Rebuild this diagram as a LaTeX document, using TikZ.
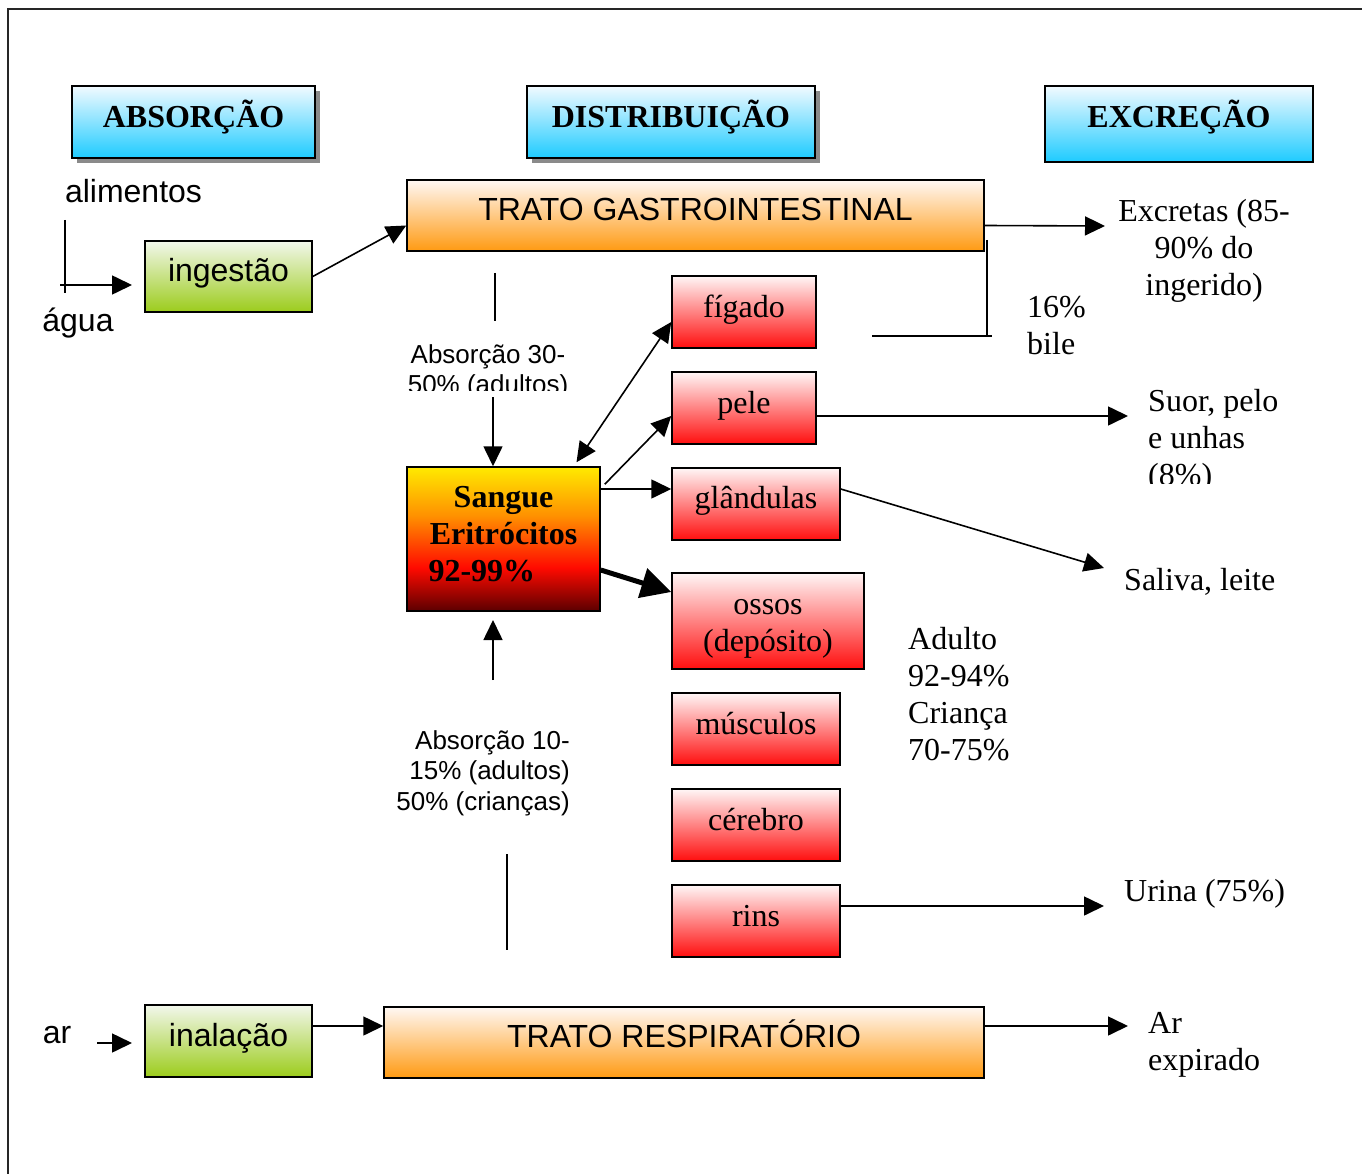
\documentclass[tikz,border=0pt]{standalone}
\usepackage{fontspec}
\setmainfont{Liberation Serif}
\setsansfont{Liberation Sans}
\usetikzlibrary{arrows.meta,shadows,calc}
\definecolor{cyTop}{HTML}{F2FAFF}
\definecolor{cyBot}{HTML}{1ECBFF}
\definecolor{orTop}{HTML}{FFF8F4}
\definecolor{orBot}{HTML}{FF9A12}
\definecolor{grTop}{HTML}{F2F7EC}
\definecolor{grBot}{HTML}{9CCC1C}
\definecolor{rdTop}{HTML}{FFF6F6}
\definecolor{rdBot}{HTML}{FF0E0E}
\definecolor{blYel}{HTML}{FFEA00}
\definecolor{blOra}{HTML}{FF9000}
\definecolor{blRed}{HTML}{FF0A00}
\definecolor{blDark}{HTML}{5C0000}
\definecolor{shadowgray}{HTML}{8A8A8A}
\pgfdeclareverticalshading{bloodshade}{100bp}{color(0bp)=(blDark); color(25bp)=(blDark); color(40bp)=(blRed); color(58bp)=(blOra); color(75bp)=(blYel); color(100bp)=(blYel)}
\newcommand\upby[2]{\raisebox{#1}[\height][\depth]{#2}}
\begin{document}
\begin{tikzpicture}[x=1pt,y=-1pt,
  serifbig/.style={font=\fontsize{32}{37}\selectfont},
  sansbig/.style={font=\sffamily\fontsize{32}{37}\selectfont},
  sanssmall/.style={font=\sffamily\fontsize{26}{30.5}\selectfont},
  box/.style={draw=black, line width=1.5pt, inner sep=0pt, align=center},
  headbox/.style={box, top color=cyTop, bottom color=cyBot, font=\fontsize{32}{37}\selectfont\bfseries},
  headshadow/.style={general shadow={fill=shadowgray, shadow xshift=5pt, shadow yshift=-5pt}},
  organ/.style={box, top color=rdTop, bottom color=rdBot, serifbig, minimum height=72pt},
  tract/.style={box, top color=orTop, bottom color=orBot, sansbig, minimum height=71pt},
  actbox/.style={box, top color=grTop, bottom color=grBot, sansbig, minimum width=167pt, minimum height=71pt},
  lbl/.style={inner sep=0pt, align=center},
  arr/.style={-{Triangle[length=20pt,width=19pt]}, line width=1.6pt},
  ln/.style={line width=1.6pt},
]
\useasboundingbox (0,0) rectangle (1362,1174);
% frame
\draw[line width=1.8pt, black!85] (8,1174) -- (8,9) -- (1362,9);

% headers
\node[headbox, headshadow, minimum width=243pt, minimum height=72pt] (habs) at (193.5,122) {\upby{5pt}{ABSORÇÃO}};
\node[headbox, headshadow, minimum width=288pt, minimum height=72pt] (hdist) at (671,122) {\upby{4.5pt}{DISTRIBUIÇÃO}};
\node[headbox, minimum width=268pt, minimum height=76pt] (hexc) at (1179,124) {\upby{7pt}{EXCREÇÃO}};

% left side intake
\node[lbl, sansbig] (alim) at (133.5,191) {alimentos};
\node[lbl, sansbig] (agua) at (78,323) {água};
\node[actbox] (ing) at (228.5,276.5) {\upby{3pt}{ingestão}};
\coordinate (wtop) at (65,220);
\coordinate (wbot) at (65,293);
\coordinate (wstart) at (60,285);
\coordinate (wend) at (132,285);
\draw[ln] (wtop) -- (wbot);
\draw[arr] (wstart) -- (wend);

% GI tract
\node[tract, minimum width=577pt] (gi) at (695.5,215.5) {\upby{6pt}{TRATO GASTROINTESTINAL}};
\draw[arr] (ing.east) -- ([yshift=-10pt]gi.west);
\coordinate (excr) at (1105,226);
\draw[arr] ([yshift=-10pt]gi.east) -- (excr);
\node[lbl, serifbig] (excrtxt) at (1204,251) {Excretas (85-\\90\% do\\ingerido)};

% bile
\coordinate (bt) at (987,240);
\coordinate (bb) at (987,336);
\coordinate (bl) at (872,336);
\coordinate (br) at (992,336);
\draw[ln] (bt) -- (bb);
\draw[ln] (bl) -- (br);
\node[lbl, serifbig, align=left, anchor=west] (bile) at (1027,326) {16\%\\bile};

% blood
\node[box, shading=bloodshade, minimum width=193pt, minimum height=144pt, font=\fontsize{32}{37}\selectfont\bfseries] (blood) at (503.5,539)
  {\upby{1.5pt}{\begin{tabular}{@{}c@{}}Sangue\\Eritrócitos\\\makebox[146pt][l]{\hspace{-2pt}92-99\%}\end{tabular}}};

% absorption 30-50
\coordinate (a1t) at (495,273);
\coordinate (a1b) at (495,321);
\draw[ln] (a1t) -- (a1b);
\begin{scope}
  \clip (395,330) rectangle (590,390);
  \node[lbl, sanssmall] (abs1) at (488,372) {Absorção 30-\\50\% (adultos)};
\end{scope}
\coordinate (a1s) at (493,397);
\draw[arr] (a1s) -- ([xshift=-10.5pt]blood.north);

% organs
\node[organ, minimum width=144pt] (fig) at (744,312) {\upby{2pt}{fígado}};
\node[organ, minimum width=144pt] (pele) at (744,408) {\upby{2pt}{pele}};
\node[organ, minimum width=168pt] (gland) at (756,504) {\upby{3.5pt}{glândulas}};
\node[organ, minimum width=192pt, minimum height=96pt] (ossos) at (768,621) {\upby{-4.5pt}{\begin{tabular}{@{}c@{}}ossos\\(depósito)\end{tabular}}};
\node[organ, minimum width=168pt] (musc) at (756,729) {\upby{5.5pt}{músculos}};
\node[organ, minimum width=168pt] (cer) at (756,825) {\upby{5.5pt}{cérebro}};
\node[organ, minimum width=168pt] (rins) at (756,921) {\upby{5pt}{rins}};

\draw[{Triangle[length=20pt,width=19pt]}-{Triangle[length=20pt,width=19pt]}, line width=1.6pt] ([xshift=73pt,yshift=4pt]blood.north) -- ([yshift=-10pt]fig.west);
\draw[arr] ([xshift=4pt,yshift=-18pt]blood.north east) -- ([yshift=-8pt]pele.west);
\draw[arr] ([yshift=50pt]blood.east) -- ([yshift=15pt]gland.west);
\draw[-{Triangle[length=30pt,width=30pt]}, line width=5pt] ([yshift=-31pt]blood.east) -- ([yshift=29pt]ossos.west);

% outputs
\coordinate (suor) at (1128,416);
\draw[arr] ([yshift=-8pt]pele.east) -- (suor);
\begin{scope}
  \clip (1140,375) rectangle (1320,483);
  \node[lbl, serifbig, align=left, anchor=west] (suortxt) at (1148,441) {Suor, pelo\\e unhas\\(8\%)};
\end{scope}
\coordinate (saliva) at (1104,568);
\draw[arr] ([yshift=15pt]gland.east) -- (saliva);
\node[lbl, serifbig, anchor=west] (salivatxt) at (1124,582) {Saliva, leite};
\node[lbl, serifbig, align=left, anchor=west] (adulto) at (908,694) {Adulto\\92-94\%\\Criança\\70-75\%};
\coordinate (urina) at (1104,906);
\draw[arr] ([yshift=15pt]rins.east) -- (urina);
\node[lbl, serifbig, anchor=west] (urinatxt) at (1124,894) {Urina (75\%)};

% absorption 10-15
\coordinate (a2s) at (493,680);
\coordinate (a2e) at (493,620);
\draw[arr] (a2s) -- (a2e);
\node[lbl, sanssmall, align=right, anchor=east] (abs2) at (570,773) {Absorção 10-\\15\% (adultos)\\50\% (crianças)};
\coordinate (a2t) at (507,854);
\coordinate (a2b) at (507,950);
\draw[ln] (a2t) -- (a2b);

% respiratory
\node[lbl, sansbig] (ar) at (57,1035) {ar};
\coordinate (ars) at (97,1043);
\coordinate (are) at (132,1043);
\draw[arr] (ars) -- (are);
\node[actbox, minimum height=72pt] (inal) at (228.5,1041) {\upby{3pt}{inalação}};
\node[tract, minimum width=600pt] (resp) at (684,1042.5) {\upby{8.5pt}{TRATO RESPIRATÓRIO}};
\draw[arr] ([yshift=15pt]inal.east) -- ([yshift=16.5pt]resp.west);
\coordinate (arexp) at (1128,1026);
\draw[arr] ([yshift=16.5pt]resp.east) -- (arexp);
\node[lbl, serifbig, align=left, anchor=west] (arexptxt) at (1148,1045) {Ar\\expirado};
\end{tikzpicture}
\end{document}
